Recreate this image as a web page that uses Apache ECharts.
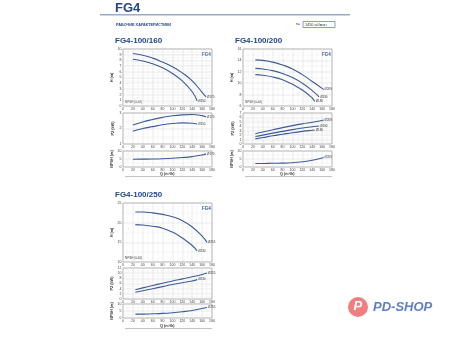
<!DOCTYPE html>
<html><head><meta charset="utf-8">
<script src="https://cdn.jsdelivr.net/npm/echarts@6/dist/echarts.min.js"></script>
<style>html,body{margin:0;padding:0;background:#fff}#c{width:450px;height:337px}</style>
</head><body><div id="c"></div>
<script>
// ---- data ----
const xTicks = [0,20,40,60,80,100,120,140,160,180];
// FG4-100/160
const q160a = [20,40,60,80,100,120,140,160,168];
const h160a = [9.2,8.9,8.4,7.7,6.9,5.8,4.4,2.4,1.6];
const q160b = [20,40,60,80,100,120,140,150];
const h160b = [8.2,7.9,7.4,6.7,5.7,4.4,2.5,0.9];
const p160a = [2.22,2.42,2.58,2.72,2.82,2.88,2.9,2.83,2.74];
const p160b = [1.82,2.0,2.12,2.24,2.32,2.36,2.34,2.29];
const qN160 = [20,40,60,80,100,120,140,160,168];
const n160 = [4.8,4.9,5.0,5.2,5.5,5.9,6.5,7.5,8.2];
// FG4-100/200
const q200a = [25,40,60,80,100,120,140,160,163];
const h200a = [14.1,14.0,13.7,13.2,12.5,11.5,10.3,9.1,8.9];
const q200b = [25,40,60,80,100,120,140,154];
const h200b = [12.6,12.5,12.2,11.7,11.0,10.0,8.7,7.6];
const q200c = [25,40,60,80,100,120,140,145];
const h200c = [11.5,11.4,11.1,10.6,9.8,8.8,7.4,6.8];
const p200a = [2.3,2.7,3.2,3.7,4.15,4.55,4.9,5.3,5.4];
const p200b = [1.7,2.0,2.45,2.85,3.25,3.6,3.9,4.05];
const p200c = [1.15,1.45,1.85,2.2,2.55,2.85,3.1,3.15];
const qN200 = [25,40,60,80,100,120,140,160,163];
const n200 = [2.2,2.2,2.3,2.4,2.7,3.3,4.2,5.6,6.0];
// FG4-100/250
const q250a = [25,40,60,80,100,120,140,160,170];
const h250a = [22.7,22.7,22.5,22.1,21.5,20.5,18.9,16.6,15.0];
const q250b = [25,40,60,80,100,120,140,150];
const h250b = [19.5,19.4,19.1,18.6,17.6,16.1,14.2,12.8];
const p250a = [3.6,4.3,5.2,6.1,7.0,7.8,8.6,9.5,10.1];
const p250b = [2.6,3.2,4.0,4.8,5.6,6.3,7.0,7.5];
const qN250 = [25,40,60,80,100,120,140,160,170];
const n250 = [2.8,2.8,3.0,3.3,3.8,4.5,5.4,6.8,7.7];

const blue = '#3b5b98';
const dark = '#21468c';
function pts(q, v){ return q.map((x,i)=>[x,v[i]]); }

const grids = [], xAxes = [], yAxes = [], series = [];
function panel(left, top, h, ymin, ymax, yint, yname, curves){
  const gi = grids.length;
  grids.push({left:left, top:top, width:89, height:h, show:true, borderColor:'#888', borderWidth:0.6, backgroundColor:'#fff'});
  xAxes.push({gridIndex:gi, type:'value', min:0, max:180, interval:20,
    axisLine:{show:false}, axisTick:{show:false},
    axisLabel:{fontSize:3.5, color:'#444', margin:1.5},
    splitLine:{lineStyle:{color:'#c9c9c9', width:0.4}},
    minorTick:{show:false, splitNumber:2},
    minorSplitLine:{show:true, lineStyle:{color:'#e2e2e2', width:0.3}}});
  yAxes.push({gridIndex:gi, type:'value', min:ymin, max:ymax, interval:yint,
    name:yname, nameLocation:'middle', nameGap:8, nameRotate:90,
    nameTextStyle:{fontSize:3.8, color:'#333', fontWeight:'bold'},
    axisLine:{show:false}, axisTick:{show:false},
    axisLabel:{fontSize:3.5, color:'#444', margin:1.5},
    splitLine:{lineStyle:{color:'#c9c9c9', width:0.4}},
    minorTick:{show:false, splitNumber:2},
    minorSplitLine:{show:true, lineStyle:{color:'#e2e2e2', width:0.3}}});
  curves.forEach(c=>{
    const d = pts(c.q, c.v).map((p,i)=> i===0 && c.start ? {value:p, label:{show:true, formatter:c.start, position:'left', fontSize:3, color:'#333', distance:1}} : p);
    series.push({type:'line', xAxisIndex:gi, yAxisIndex:gi, data:d, smooth:true, symbol:'none',
      lineStyle:{color:blue, width:1.1}, silent:true,
      endLabel:{show:!!c.end, formatter:c.end||'', fontSize:3, color:'#333', distance:1}});
  });
}
// Chart 1
panel(123,49,57,0,10,1,'H (m)',[{q:q160a,v:h160a,start:'160 Ø B',end:'Ø170'},{q:q160b,v:h160b,start:'160 Ø B',end:'Ø150'}]);
panel(123,113,31,1,3,1,'P2 (kW)',[{q:q160a,v:p160a,start:'A',end:'Ø170'},{q:q160b,v:p160b,start:'B',end:'Ø150'}]);
panel(123,151,16,0,10,5,'NPSH (m)',[{q:qN160,v:n160,end:'Ø170'}]);
// Chart 2
panel(243,49,57,6,16,2,'H (m)',[{q:q200a,v:h200a,start:'Ø 209',end:'Ø209'},{q:q200b,v:h200b,start:'Ø 190',end:'Ø190'},{q:q200c,v:h200c,start:'Ø 180',end:'Ø180'}]);
panel(243,113,31,0,7,1,'P2 (kW)',[{q:q200a,v:p200a,start:'A',end:'Ø209'},{q:q200b,v:p200b,start:'B',end:'Ø190'},{q:q200c,v:p200c,start:'C',end:'Ø180'}]);
panel(243,151,16,0,10,5,'NPSH (m)',[{q:qN200,v:n200,end:'Ø209'}]);
// Chart 3
panel(123,203,59,10,25,5,'H (m)',[{q:q250a,v:h250a,start:'Ø 255',end:'Ø255'},{q:q250b,v:h250b,start:'Ø 230',end:'Ø230'}]);
panel(123,268,31,0,12,2,'P2 (kW)',[{q:q250a,v:p250a,start:'A',end:'Ø255'},{q:q250b,v:p250b,start:'B',end:'Ø230'}]);
panel(123,304,14,0,10,5,'NPSH (m)',[{q:qN250,v:n250,end:'Ø255'}]);

function txt(x,y,t,size,color,weight,italic){
  return {type:'text', left:x, top:y, style:{text:t, fill:color,
    font:(italic?'italic ':'')+(weight||'normal')+' '+size+'px "Liberation Sans", Arial, sans-serif'}};
}
const graphic = [
  txt(115,2,'FG4',13,dark,'bold'),
  {type:'rect', shape:{x:100,y:14,width:250,height:1.6}, style:{fill:'#9aaccc'}},
  txt(116,23,'РАБОЧИЕ ХАРАКТЕРИСТИКИ',3.8,dark,'bold'),
  txt(296,22.5,'n=',3.5,'#333'),
  {type:'rect', shape:{x:303,y:21.5,width:32,height:6}, style:{fill:'#fff', stroke:'#3b5b98', lineWidth:0.6}},
  txt(305,23,'1450 об/мин',3.8,'#333'),
  txt(115,37,'FG4-100/160',8,dark,'bold'),
  txt(235,37,'FG4-100/200',8,dark,'bold'),
  txt(115,191,'FG4-100/250',8,dark,'bold'),
  txt(202,52,'FG4',4.5,dark,'bold'),
  txt(322,52,'FG4',4.5,dark,'bold'),
  txt(202,206,'FG4',4.5,dark,'bold'),
  txt(125,101,'NPSH (0-40)',3,'#333'),
  txt(245,101,'NPSH (0-40)',3,'#333'),
  txt(125,257,'NPSH (0-40)',3,'#333'),
  txt(160,171.5,'Q (m³/h)',3.8,'#333','bold'),
  txt(280,171.5,'Q (m³/h)',3.8,'#333','bold'),
  txt(160,323.5,'Q (m³/h)',3.8,'#333','bold'),
  {type:'rect', shape:{x:125,y:176.5,width:87,height:0.6}, style:{fill:'#888'}},
  {type:'rect', shape:{x:245,y:176.5,width:87,height:0.6}, style:{fill:'#888'}},
  {type:'rect', shape:{x:125,y:328.5,width:87,height:0.6}, style:{fill:'#888'}},
  // logo
  {type:'circle', shape:{cx:358, cy:307, r:10}, style:{fill:'#f08080'}},
  txt(353.5,299.5,'P',13,'#fff','bold',true),
  txt(373,301,'PD-SHOP',13,'#5f7ec4','bold',true)
];

const chart = echarts.init(document.getElementById('c'), null, {renderer:'canvas'});
chart.setOption({animation:false, backgroundColor:'#fff', grid:grids, xAxis:xAxes, yAxis:yAxes, series:series, graphic:graphic});
</script></body></html>
